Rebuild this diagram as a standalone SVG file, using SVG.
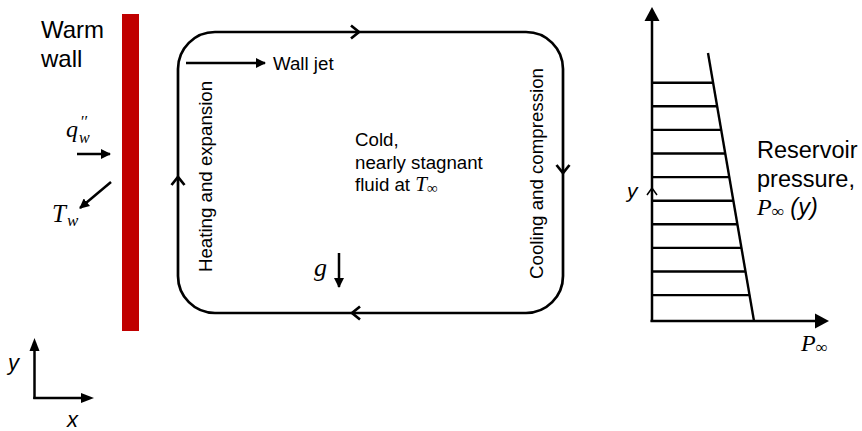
<svg xmlns="http://www.w3.org/2000/svg" width="862" height="431" viewBox="0 0 862 431">
  <style>
    .sans { font-family: "Liberation Sans", Arial, sans-serif; fill: #000; }
    .math { font-family: "Liberation Serif", "Times New Roman", serif; font-style: italic; fill: #000; }
    .isans { font-family: "Liberation Sans", Arial, sans-serif; font-style: italic; fill: #000; }
    .line { stroke: #000; fill: none; stroke-width: 2.5; }
    .loop { stroke: #000; fill: none; stroke-width: 2.7; }
    .hatch { stroke: #000; stroke-width: 2.4; }
  </style>
  <defs>
    <marker id="head" viewBox="0 0 10 10" refX="9" refY="5" markerWidth="4" markerHeight="4" orient="auto" markerUnits="strokeWidth">
      <path d="M0,0 L10,5 L0,10 Z" fill="#000"/>
    </marker>
  </defs>
  <rect width="862" height="431" fill="#fff"/>

  <!-- heated wall -->
  <g id="wall">
    <rect x="122" y="14" width="17" height="317" fill="#C00000"/>
    <text class="sans" x="41" y="38" font-size="24">Warm</text>
    <text class="sans" x="41" y="67" font-size="24">wall</text>
  </g>

  <g id="heat-flux">
    <text class="math" font-size="24"><tspan x="66" y="137">q</tspan><tspan x="81" y="127" font-size="16" font-style="normal">′′</tspan><tspan x="79" y="143" font-size="16">w</tspan></text>
  </g>

  <g id="wall-temperature">
    <text class="math" font-size="25"><tspan x="52" y="222">T</tspan><tspan x="67" y="226" font-size="17">w</tspan></text>
  </g>

  <!-- circulation loop inside the enclosure -->
  <g id="loop">
    <rect class="loop" x="178" y="32" width="385" height="281" rx="37" ry="37"/>
    <text class="sans" font-size="18.7" text-anchor="middle" transform="translate(212,176.5) rotate(-90)">Heating and expansion</text>
    <text class="sans" font-size="18.7" text-anchor="middle" transform="translate(543,173.5) rotate(-90)">Cooling and compression</text>
  </g>

  <g id="wall-jet">
    <text class="sans" x="273" y="70" font-size="18.7">Wall jet</text>
  </g>

  <g id="core">
    <text class="sans" font-size="18.7">
      <tspan x="355" y="146">Cold,</tspan>
      <tspan x="355" y="168.5">nearly stagnant</tspan>
      <tspan x="355" y="191">fluid at <tspan class="math" font-size="21">T</tspan><tspan class="math" font-size="15" font-style="normal" dy="2">∞</tspan></tspan>
    </text>
  </g>

  <g id="gravity">
    <text class="math" x="314" y="276" font-size="26">g</text>
  </g>

  <!-- reservoir pressure profile -->
  <g id="pressure-profile">
    <line class="hatch" x1="708" y1="53" x2="754" y2="321"/>
    <line class="hatch" x1="652" y1="82.7" x2="713.1" y2="82.7"/>
    <line class="hatch" x1="652" y1="106.3" x2="717.1" y2="106.3"/>
    <line class="hatch" x1="652" y1="129.9" x2="721.2" y2="129.9"/>
    <line class="hatch" x1="652" y1="153.5" x2="725.2" y2="153.5"/>
    <line class="hatch" x1="652" y1="177.1" x2="729.3" y2="177.1"/>
    <line class="hatch" x1="652" y1="200.7" x2="733.3" y2="200.7"/>
    <line class="hatch" x1="652" y1="224.3" x2="737.4" y2="224.3"/>
    <line class="hatch" x1="652" y1="247.9" x2="741.4" y2="247.9"/>
    <line class="hatch" x1="652" y1="271.5" x2="745.5" y2="271.5"/>
    <line class="hatch" x1="652" y1="295.1" x2="749.5" y2="295.1"/>
    <line class="line" stroke-width="3" x1="652" y1="322" x2="652" y2="19"/>
    <path d="M652,7 L644.5,21 L659.5,21 Z" fill="#000"/>
    <line class="line" stroke-width="3" x1="650.5" y1="321" x2="816" y2="321"/>
    <path d="M829,321 L815,313.5 L815,328.5 Z" fill="#000"/>
    <path d="M647,195 L652,188 L657,195" fill="none" stroke="#000" stroke-width="1.5"/>
    <text class="isans" x="627" y="198" font-size="21">y</text>
    <text class="math" font-size="24"><tspan x="801" y="351">P</tspan><tspan font-size="17" font-style="normal" dy="2">∞</tspan></text>
  </g>

  <g id="reservoir-label">
    <text class="sans" font-size="23.5">
      <tspan x="757" y="158">Reservoir</tspan>
      <tspan x="757" y="187">pressure,</tspan>
    </text>
    <text font-size="24"><tspan class="math" x="757" y="215">P</tspan><tspan class="math" font-size="17" font-style="normal" dy="2">∞</tspan><tspan class="isans" font-size="23.5" dy="-2"> (y)</tspan></text>
  </g>

  <!-- coordinate axes -->
  <g id="axes">
    <line class="line" x1="34.5" y1="399" x2="34.5" y2="350"/>
    <path d="M34.5,338 L29.5,351 L39.5,351 Z" fill="#000"/>
    <line class="line" x1="33.3" y1="398" x2="82" y2="398"/>
    <path d="M94,398 L81,393 L81,403 Z" fill="#000"/>
    <text class="isans" x="8" y="370" font-size="22">y</text>
    <text class="isans" x="67" y="427" font-size="22">x</text>
  </g>

  <!-- connectors -->
  <g id="connectors">
    <line class="line" x1="77" y1="154" x2="110" y2="154" marker-end="url(#head)"/>
    <line class="line" x1="111" y1="182" x2="80" y2="208" marker-end="url(#head)"/>
    <line class="line" x1="186" y1="63" x2="265" y2="63" marker-end="url(#head)"/>
    <line class="line" x1="339" y1="253" x2="339" y2="287" marker-end="url(#head)"/>
    <path class="loop" stroke-width="2.2" d="M351,25.5 L359,32 L351,38.5"/>
    <path class="loop" stroke-width="2.2" d="M556.5,165 L563,173 L569.5,165"/>
    <path class="loop" stroke-width="2.2" d="M360,306.5 L352,313 L360,319.5"/>
    <path class="loop" stroke-width="2.2" d="M171.5,185 L178,177 L184.5,185"/>
  </g>
</svg>
